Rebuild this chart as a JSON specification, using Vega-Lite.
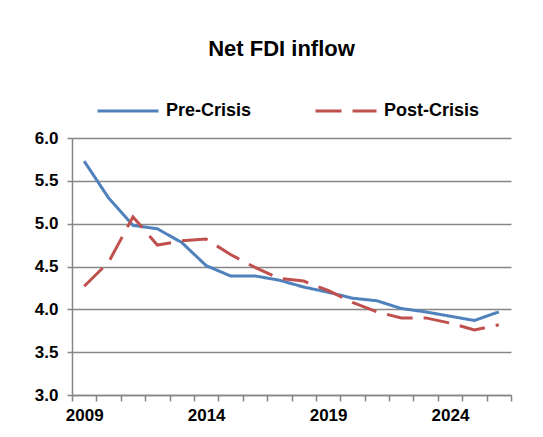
{
  "$schema": "https://vega.github.io/schema/vega-lite/v6.json",
  "autosize": {"type": "none"},
  "width": 439,
  "height": 257,
  "padding": {"left": 72, "top": 138, "right": 32, "bottom": 42},
  "background": "white",
  "config": {
    "view": {"stroke": null},
    "font": "Liberation Sans"
  },
  "title": {
    "text": "Net FDI inflow",
    "font": "Liberation Sans",
    "fontSize": 22,
    "fontWeight": "bold",
    "color": "black",
    "anchor": "middle",
    "dx": -10,
    "offset": 18
  },
  "data": {
    "values": [
      {"year": 2009, "series": "Pre-Crisis", "value": 5.73},
      {"year": 2010, "series": "Pre-Crisis", "value": 5.30},
      {"year": 2011, "series": "Pre-Crisis", "value": 4.98},
      {"year": 2012, "series": "Pre-Crisis", "value": 4.94},
      {"year": 2013, "series": "Pre-Crisis", "value": 4.78},
      {"year": 2014, "series": "Pre-Crisis", "value": 4.51},
      {"year": 2015, "series": "Pre-Crisis", "value": 4.39},
      {"year": 2016, "series": "Pre-Crisis", "value": 4.39},
      {"year": 2017, "series": "Pre-Crisis", "value": 4.34},
      {"year": 2018, "series": "Pre-Crisis", "value": 4.26},
      {"year": 2019, "series": "Pre-Crisis", "value": 4.20},
      {"year": 2020, "series": "Pre-Crisis", "value": 4.13},
      {"year": 2021, "series": "Pre-Crisis", "value": 4.10},
      {"year": 2022, "series": "Pre-Crisis", "value": 4.01},
      {"year": 2023, "series": "Pre-Crisis", "value": 3.97},
      {"year": 2024, "series": "Pre-Crisis", "value": 3.92},
      {"year": 2025, "series": "Pre-Crisis", "value": 3.87},
      {"year": 2026, "series": "Pre-Crisis", "value": 3.97},
      {"year": 2009, "series": "Post-Crisis", "value": 4.27},
      {"year": 2010, "series": "Post-Crisis", "value": 4.55},
      {"year": 2011, "series": "Post-Crisis", "value": 5.08},
      {"year": 2012, "series": "Post-Crisis", "value": 4.75},
      {"year": 2013, "series": "Post-Crisis", "value": 4.80},
      {"year": 2014, "series": "Post-Crisis", "value": 4.82},
      {"year": 2015, "series": "Post-Crisis", "value": 4.64},
      {"year": 2016, "series": "Post-Crisis", "value": 4.49},
      {"year": 2017, "series": "Post-Crisis", "value": 4.36},
      {"year": 2018, "series": "Post-Crisis", "value": 4.33},
      {"year": 2019, "series": "Post-Crisis", "value": 4.22},
      {"year": 2020, "series": "Post-Crisis", "value": 4.08},
      {"year": 2021, "series": "Post-Crisis", "value": 3.97},
      {"year": 2022, "series": "Post-Crisis", "value": 3.90},
      {"year": 2023, "series": "Post-Crisis", "value": 3.90},
      {"year": 2024, "series": "Post-Crisis", "value": 3.84},
      {"year": 2025, "series": "Post-Crisis", "value": 3.76},
      {"year": 2026, "series": "Post-Crisis", "value": 3.82}
    ]
  },
  "layer": [
    {
      "mark": {"type": "line", "strokeWidth": 3},
      "encoding": {
        "x": {
          "field": "year",
          "type": "quantitative",
          "scale": {"domain": [2008.5, 2026.5], "nice": false, "zero": false},
          "axis": {
            "orient": "bottom",
            "title": null,
            "values": [2008.5, 2009.5, 2010.5, 2011.5, 2012.5, 2013.5, 2014.5, 2015.5, 2016.5, 2017.5, 2018.5, 2019.5, 2020.5, 2021.5, 2022.5, 2023.5, 2024.5, 2025.5, 2026.5],
            "labels": false,
            "grid": false,
            "ticks": true,
            "tickSize": 6,
            "tickWidth": 1.5,
            "tickColor": "#868686",
            "domain": true,
            "domainColor": "#868686",
            "domainWidth": 1.5
          }
        },
        "y": {
          "field": "value",
          "type": "quantitative",
          "scale": {"domain": [3, 6], "nice": false, "zero": false},
          "axis": {
            "title": null,
            "values": [3, 3.5, 4, 4.5, 5, 5.5, 6],
            "format": ".1f",
            "grid": true,
            "gridColor": "#868686",
            "gridWidth": 1.5,
            "domain": true,
            "domainColor": "#868686",
            "domainWidth": 1.5,
            "ticks": true,
            "tickSize": 5,
            "tickWidth": 1.5,
            "tickColor": "#868686",
            "labelFont": "Liberation Sans",
            "labelFontSize": 17,
            "labelFontWeight": "bold",
            "labelColor": "black",
            "labelPadding": 9
          }
        },
        "color": {
          "field": "series",
          "type": "nominal",
          "sort": ["Pre-Crisis", "Post-Crisis"],
          "scale": {"domain": ["Pre-Crisis", "Post-Crisis"], "range": ["#4F81BD", "#C0504D"]},
          "legend": {
            "orient": "none",
            "legendX": 24,
            "legendY": -59,
            "direction": "horizontal",
            "title": null,
            "symbolType": "stroke",
            "symbolSize": 3721,
            "symbolStrokeWidth": 3,
            "labelFont": "Liberation Sans",
            "labelFontSize": 18,
            "labelFontWeight": "bold",
            "labelColor": "black",
            "labelOffset": 6,
            "columnPadding": 57,
            "padding": 0
          }
        },
        "strokeDash": {
          "field": "series",
          "type": "nominal",
          "sort": ["Pre-Crisis", "Post-Crisis"],
          "scale": {"domain": ["Pre-Crisis", "Post-Crisis"], "range": [[1, 0], [26, 11]]},
          "legend": null
        }
      }
    },
    {
      "mark": {"type": "line", "opacity": 0},
      "encoding": {
        "x": {
          "field": "year",
          "type": "quantitative",
          "scale": {"domain": [2008.5, 2026.5], "nice": false, "zero": false},
          "axis": {
            "orient": "bottom",
            "title": null,
            "values": [2009, 2014, 2019, 2024],
            "format": "d",
            "grid": false,
            "ticks": false,
            "domain": false,
            "labelFont": "Liberation Sans",
            "labelFontSize": 17,
            "labelFontWeight": "bold",
            "labelColor": "black",
            "labelPadding": 12
          }
        },
        "y": {
          "field": "value",
          "type": "quantitative"
        },
        "detail": {"field": "series", "type": "nominal"}
      }
    }
  ],
  "resolve": {"axis": {"x": "independent"}}
}
